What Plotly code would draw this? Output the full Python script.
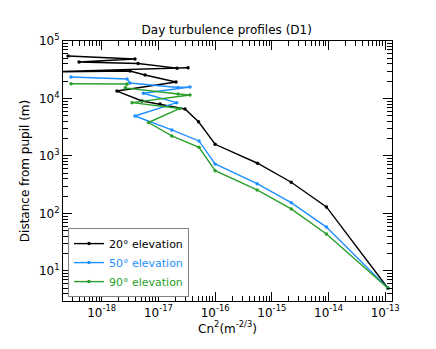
import plotly.graph_objects as go

# Cn2 values (m^-2/3) and distance from pupil (m), bottom to top
cn2_20 = [1.12e-13, 9.2e-15, 2.2e-15, 5.6e-16, 1.0e-16, 5.1e-17, 2.94e-17, 1.07e-17,
          5.14e-18, 1.86e-18, 2.04e-17, 5.8e-18, 3.15e-18, 8.2e-20, 3.33e-17, 2.13e-17,
          4.37e-18, 3.98e-19, 3.86e-18, 2.55e-19]
dist_20 = [5, 130, 349, 747, 1597, 3941, 6563, 8021, 9036, 13476, 19383, 25567, 30090,
           28890, 34243, 33690, 40520, 43196, 48642, 54826]

cn2_50 = [1.12e-13, 9.2e-15, 2.2e-15, 5.5e-16, 1.0e-16, 5.2e-17, 1.72e-17, 3.86e-18,
          2.1e-17, 5.42e-18, 3.6e-17, 2.22e-17, 3.15e-18, 2.8e-18, 2.87e-19]
dist_50 = [5, 58, 154, 330, 726, 1825, 2834, 4957, 8455, 12313, 15876, 15506, 18552,
           21875, 23629]

cn2_90 = [1.12e-13, 9.2e-15, 2.2e-15, 5.5e-16, 1.0e-16, 5.2e-17, 1.72e-17, 6.68e-18,
          2.4e-17, 3.42e-18, 3.6e-17, 2.22e-17, 2.58e-18, 2.8e-18, 2.87e-19]
dist_90 = [5, 44, 120, 256, 555, 1417, 2229, 3821, 6701, 8455, 11510, 11971, 15230,
           17870, 18000]

x_tickvals = [1e-18, 1e-17, 1e-16, 1e-15, 1e-14, 1e-13]
x_ticktext = ["10<sup>-18</sup>", "10<sup>-17</sup>", "10<sup>-16</sup>",
              "10<sup>-15</sup>", "10<sup>-14</sup>", "10<sup>-13</sup>"]
y_tickvals = [10, 100, 1000, 10000, 100000]
y_ticktext = ["10<sup>1</sup>", "10<sup>2</sup>", "10<sup>3</sup>",
              "10<sup>4</sup>", "10<sup>5</sup>"]

series = [
    ("20° elevation", cn2_20, dist_20, "black"),
    ("50° elevation", cn2_50, dist_50, "#1e90ff"),
    ("90° elevation", cn2_90, dist_90, "#2a9f2a"),
]

X_RANGE = [-18.683, -12.88]
Y_RANGE = [0.477, 5.0]

fig = go.Figure()
for name, xs, ys, col in series:
    fig.add_trace(go.Scatter(
        x=xs, y=ys, mode="lines+markers",
        name=f'<span style="color:{col}">{name}</span>',
        line=dict(color=col, width=1.4),
        marker=dict(color=col, size=3.5, symbol="circle"),
    ))

minor_x = [m * 10.0 ** e for e in range(-19, -12) for m in range(2, 10)]
minor_y = [m * 10.0 ** e for e in range(0, 5) for m in range(2, 10)]

tick_style = dict(
    type="log", showline=True, linecolor="black", linewidth=1.2,
    ticks="inside", ticklen=9, tickwidth=1, tickcolor="black", showgrid=False,
    zeroline=False, tickfont=dict(size=12, color="black"), tickmode="array",
)
minor_x_style = dict(ticks="inside", ticklen=4.5, tickcolor="black", tickmode="array",
                     tickvals=minor_x, showgrid=False)
minor_y_style = dict(ticks="inside", ticklen=4.5, tickcolor="black", tickmode="array",
                     tickvals=minor_y, showgrid=False)

fig.update_layout(
    xaxis=dict(**tick_style, range=X_RANGE, tickvals=x_tickvals, ticktext=x_ticktext,
               minor=minor_x_style, mirror="ticks",
               title=dict(text="Cn<sup>2</sup>(m<sup>-2/3</sup>)", font=dict(size=12),
                          standoff=4)),
    yaxis=dict(**tick_style, range=Y_RANGE, tickvals=y_tickvals, ticktext=y_ticktext,
               minor=minor_y_style, mirror="ticks",
               title=dict(text="Distance from pupil (m)", font=dict(size=12),
                          standoff=6)),
    # top and right copies carry the mirrored tick marks
    xaxis2=dict(**tick_style, range=X_RANGE, tickvals=x_tickvals, minor=minor_x_style,
                overlaying="x", side="top", showticklabels=False),
    yaxis2=dict(**tick_style, range=Y_RANGE, tickvals=y_tickvals, minor=minor_y_style,
                overlaying="y", side="right", showticklabels=False),
    width=436, height=349,
    margin=dict(l=63, r=44, t=41, b=48),
    paper_bgcolor="white", plot_bgcolor="white",
    font=dict(family="DejaVu Sans", size=11, color="black"),
    title=dict(text="Day turbulence profiles (D1)", x=0.52, xanchor="center",
               y=0.915, yanchor="middle", font=dict(size=12)),
    showlegend=True,
    legend=dict(x=0.015, y=0.015, xanchor="left", yanchor="bottom",
                bgcolor="white", bordercolor="#808080", borderwidth=1,
                font=dict(size=11), itemwidth=30, tracegroupgap=0),
)

fig.write_html("out.html", config={"displayModeBar": False},
               post_script="document.body.style.margin='0';")
